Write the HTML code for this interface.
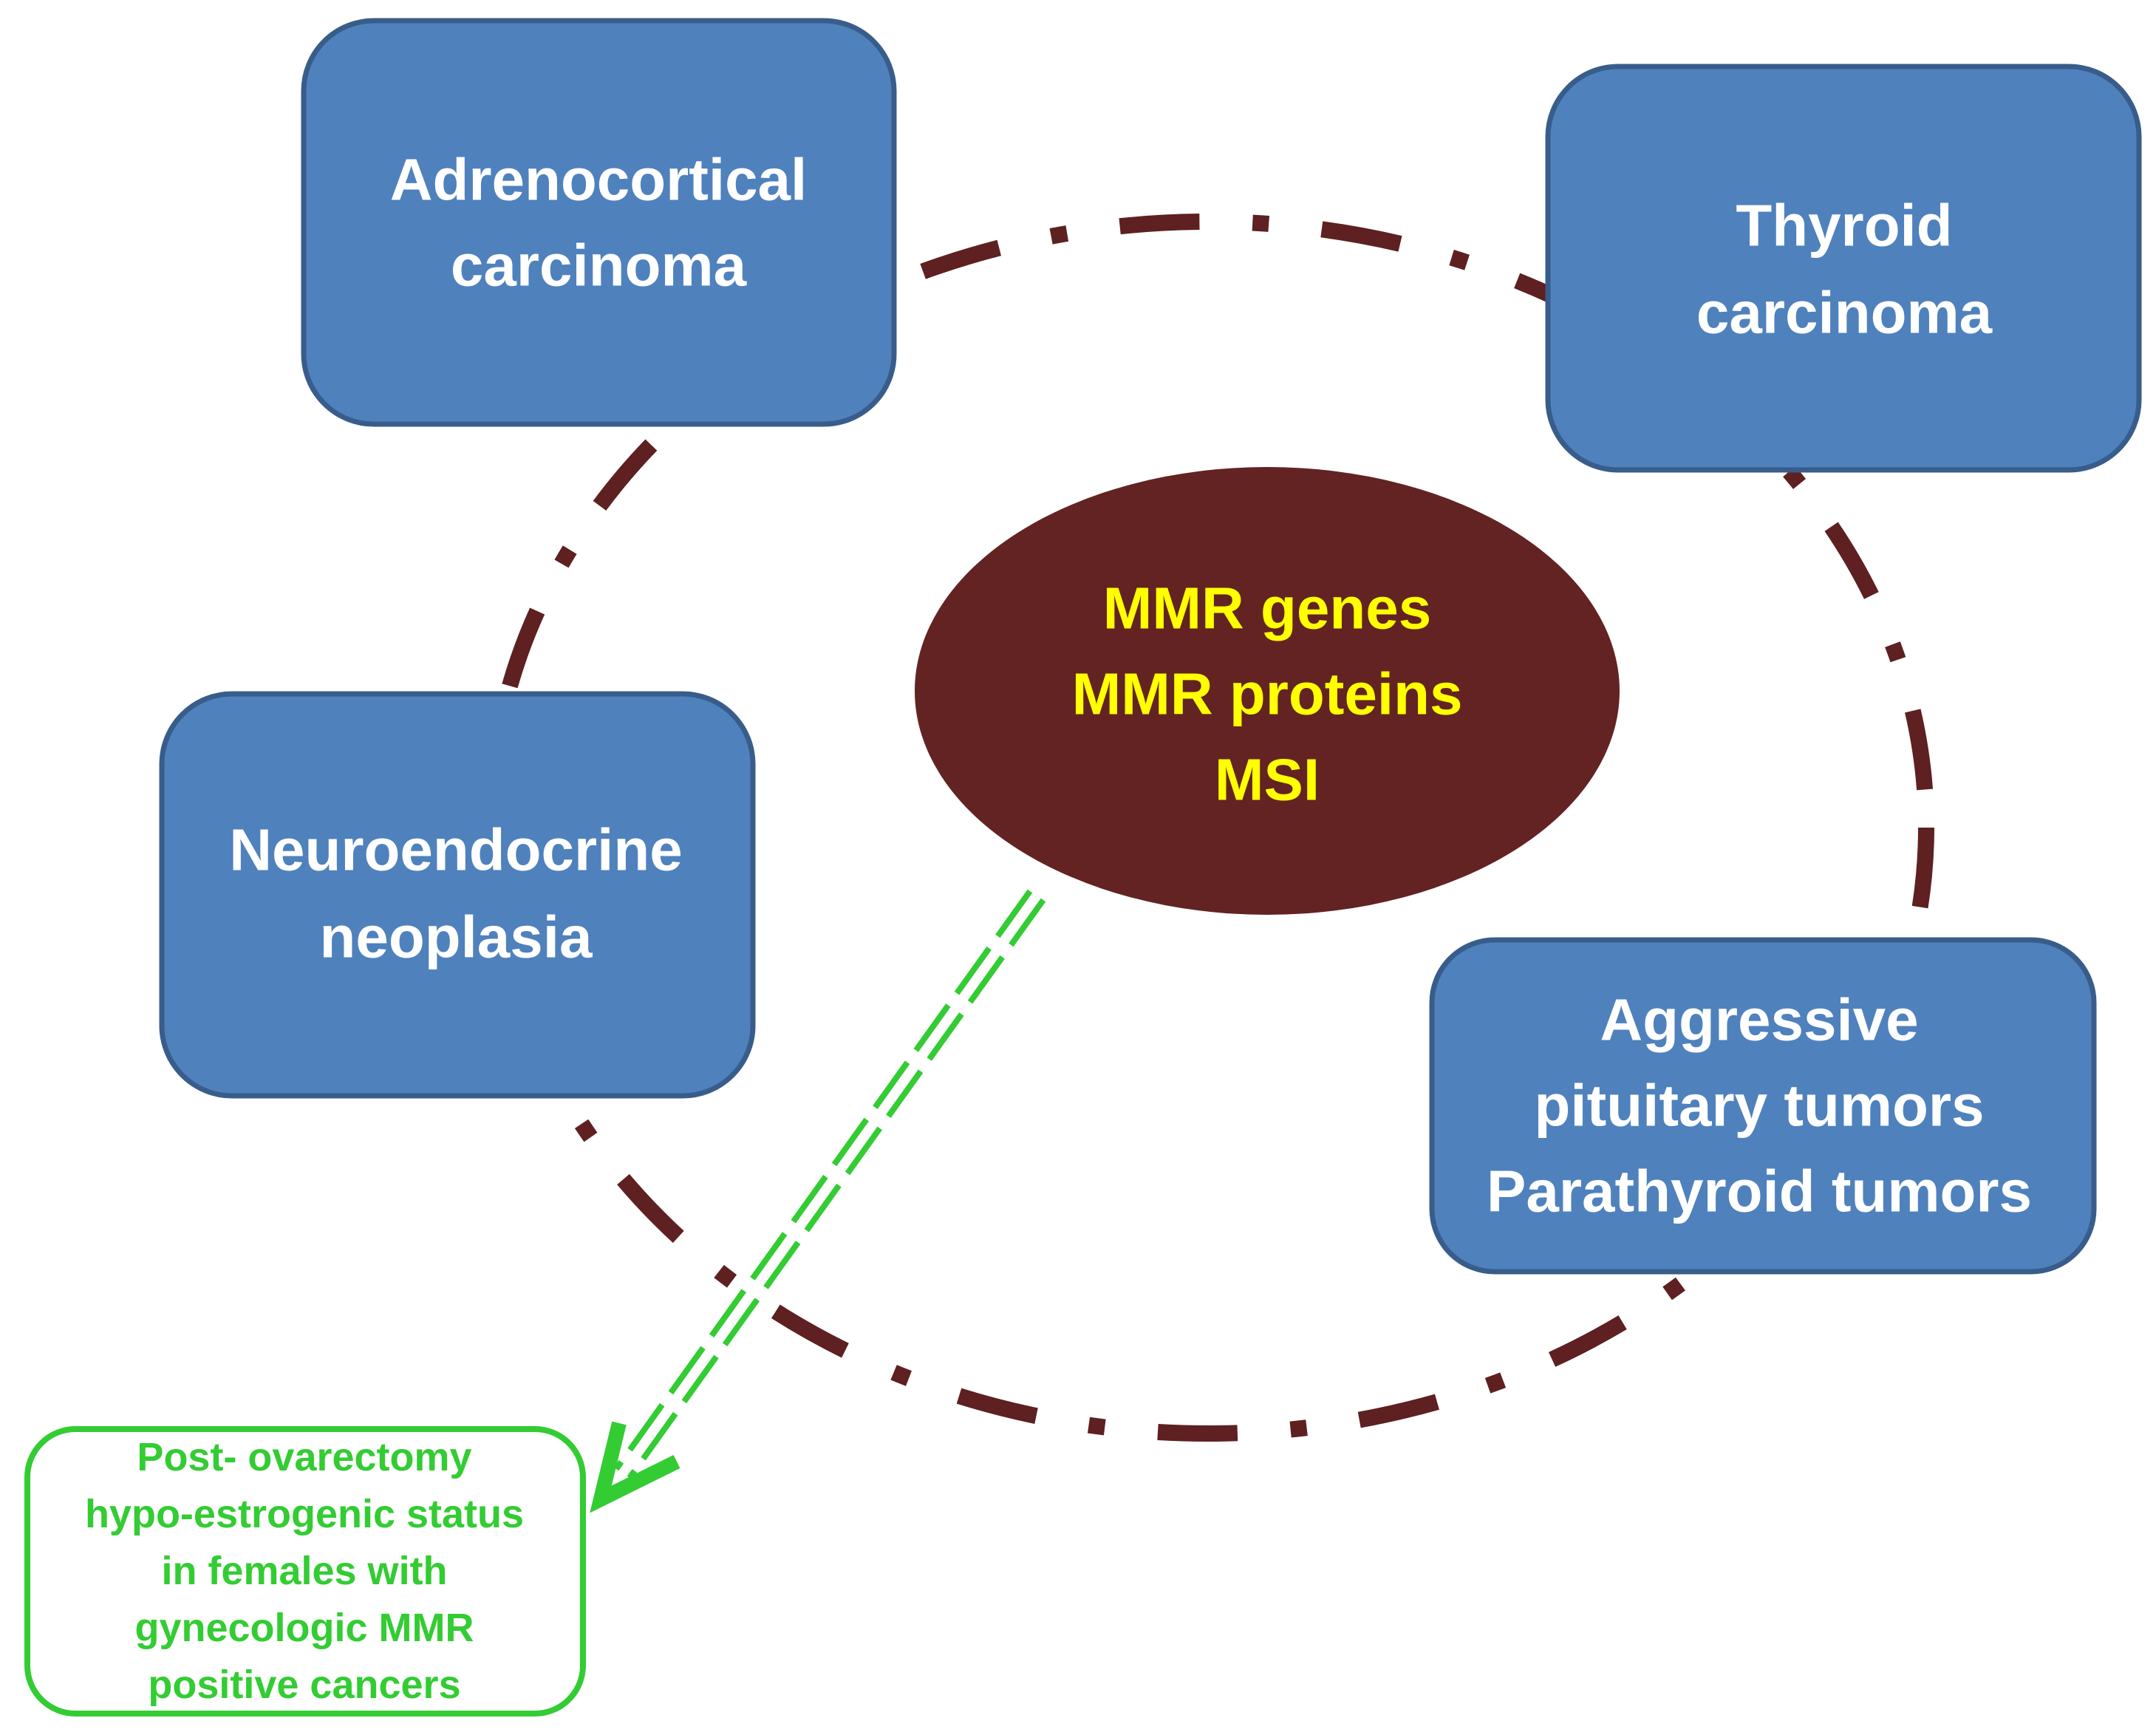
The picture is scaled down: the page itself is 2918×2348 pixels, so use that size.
<!DOCTYPE html>
<html><head><meta charset="utf-8"><style>html,body{margin:0;padding:0;background:#fff}svg{display:block}</style></head>
<body>
<svg width="2918" height="2348" viewBox="0 0 2918 2348" xmlns="http://www.w3.org/2000/svg">
<ellipse cx="1635" cy="1120" rx="972" ry="820" fill="none" stroke="#5e2020" stroke-width="22" stroke-dasharray="108 72 22 72"/>
<g fill="#4f81bd" stroke="#385d8a" stroke-width="7">
<rect x="411" y="28" width="799" height="546" rx="95"/>
<rect x="2095" y="90" width="800" height="546" rx="95"/>
<rect x="219" y="939" width="800" height="544" rx="95"/>
<rect x="1938" y="1272" width="896" height="449" rx="85"/>
</g>
<ellipse cx="1715" cy="935" rx="477" ry="303" fill="#632323"/>
<rect x="37" y="1934" width="752" height="385" rx="65" fill="#fff" stroke="#33cc33" stroke-width="8"/>
<g stroke="#33cc33" stroke-width="8" stroke-dasharray="75 20" fill="none">
<line x1="1394" y1="1206" x2="834" y2="1988"/>
<line x1="1412" y1="1218" x2="852" y2="2000"/>
</g>
<polyline points="838,1926 813,2029 916,1978" fill="none" stroke="#33cc33" stroke-width="20" stroke-linejoin="miter"/>
<g font-family="'Liberation Sans',sans-serif" font-weight="bold" text-anchor="middle" dominant-baseline="central">
<g fill="#fff" font-size="80">
<text x="810" y="243">Adrenocortical</text><text x="810" y="359">carcinoma</text>
<text x="2496" y="305">Thyroid</text><text x="2496" y="423">carcinoma</text>
<text x="617" y="1150">Neuroendocrine</text><text x="617" y="1268">neoplasia</text>
<text x="2381" y="1380">Aggressive</text><text x="2381" y="1496">pituitary tumors</text><text x="2381" y="1612">Parathyroid tumors</text>
</g>
<g fill="#ffff00" font-size="80">
<text x="1715" y="823">MMR genes</text><text x="1715" y="939">MMR proteins</text><text x="1715" y="1055">MSI</text>
</g>
<g fill="#33cc33" font-size="54">
<text x="412" y="1972">Post- ovarectomy</text>
<text x="412" y="2049">hypo-estrogenic status</text>
<text x="412" y="2126">in females with</text>
<text x="412" y="2203">gynecologic MMR</text>
<text x="412" y="2280">positive cancers</text>
</g>
</g>
</svg>
</body></html>
